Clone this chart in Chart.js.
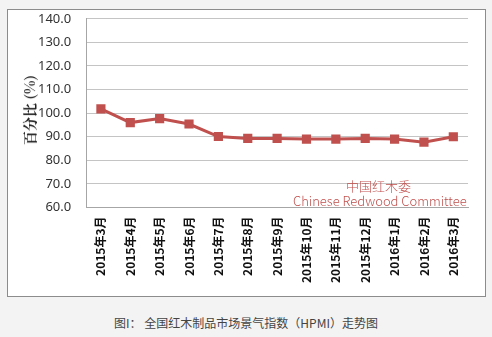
<!DOCTYPE html>
<html>
<head>
<meta charset="utf-8">
<script src="https://cdn.jsdelivr.net/npm/chart.js@4"></script>
<style>
  html, body { margin: 0; padding: 0; }
  body { width: 492px; height: 337px; background: #f3f3f3; position: relative; overflow: hidden; font-family: "Noto Sans CJK SC", sans-serif; }
  #frame { position: absolute; left: 7px; top: 9px; width: 477px; height: 286px; border: 1px solid #8c8c8c; background: #fff; }
  #frame canvas { position: absolute; left: 0; top: -14px; }
  #ytitle { position: absolute; left: 29px; top: 110px; transform: translate(-50%, -50%) rotate(-90deg); font-family: "Noto Serif CJK SC", "Noto Sans CJK SC", serif; font-weight: bold; font-size: 14px; color: #222; white-space: nowrap; }
  .mark { position: absolute; color: #c0504d; font-family: "Noto Sans CJK SC", sans-serif; font-weight: 300; white-space: nowrap; }
  #caption { position: absolute; left: 0; width: 492px; top: 314px; text-align: center; font-size: 12px; color: #444; }
</style>
</head>
<body>
<div id="frame"><canvas id="chart" width="477" height="300"></canvas></div>
<div id="ytitle">百分比 (%)</div>
<div class="mark" style="left:346px; top:176px; font-size:13px;">中国红木委</div>
<div class="mark" style="left:293px; top:191px; font-size:13px;">Chinese Redwood Committee</div>
<div id="caption">图I： 全国红木制品市场景气指数（HPMI）走势图</div>
<script>
  // 月份
  const months = ['2015年3月', '2015年4月', '2015年5月', '2015年6月', '2015年7月', '2015年8月', '2015年9月',
    '2015年10月', '2015年11月', '2015年12月', '2016年1月', '2016年2月', '2016年3月'];
  // HPMI 指数
  const hpmi = [101.8, 96.0, 97.7, 95.4, 90.1, 89.3, 89.3, 89.0, 89.0, 89.3, 89.0, 87.7, 90.0];
  const yMin = 60, yMax = 140, yStep = 10;

  const ctx = document.getElementById('chart').getContext('2d');
  new Chart(ctx, {
    type: 'line',
    data: {
      labels: months,
      datasets: [{
        data: hpmi,
        borderColor: '#c0504d',
        backgroundColor: '#c0504d',
        borderWidth: 3,
        pointStyle: 'rect',
        pointRadius: 6.5,
        pointBorderWidth: 0,
        tension: 0
      }]
    },
    options: {
      responsive: false,
      animation: false,
      layout: { padding: { top: 0, right: 17, bottom: 4, left: 15 } },
      plugins: { legend: { display: false }, tooltip: { enabled: false } },
      scales: {
        x: {
          offset: true,
          grid: { display: false, drawTicks: false },
          border: { display: true, color: '#a6a6a6' },
          ticks: {
            minRotation: 90, maxRotation: 90, padding: 9, autoSkip: false,
            color: '#111', font: { family: 'Noto Sans CJK SC', size: 12, weight: 'bold' }
          }
        },
        y: {
          min: yMin, max: yMax,
          grid: { color: '#c4c4c4', drawTicks: false },
          border: { display: true, color: '#a6a6a6' },
          ticks: {
            stepSize: yStep, padding: 15, color: '#333',
            font: { family: 'Noto Sans', size: 13 },
            callback: v => v.toFixed(1)
          }
        }
      }
    }
  });
</script>
</body>
</html>
